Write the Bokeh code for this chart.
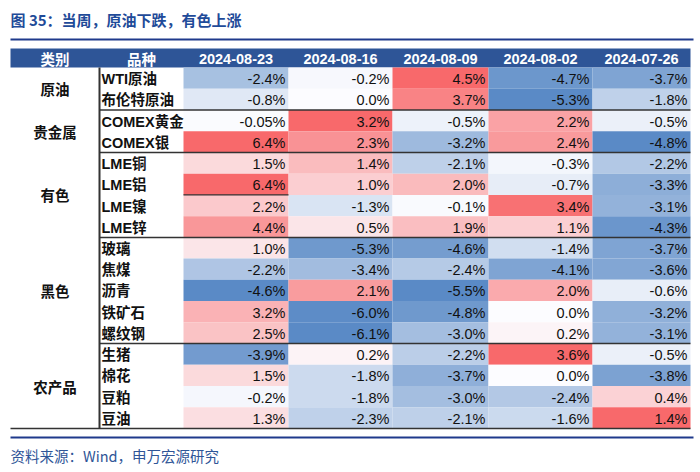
from bokeh.plotting import figure
from bokeh.models import Range1d
from bokeh.core.properties import value
from bokeh.embed import file_html
from bokeh.resources import INLINE

# ---------------- data ----------------
title_text = "图 35：当周，原油下跌，有色上涨"
source_text = "资料来源：Wind，申万宏源研究"
head_left = ["类别", "品种"]
dates = ["2024-08-23", "2024-08-16", "2024-08-09", "2024-08-02", "2024-07-26"]
groups = ["原油", "贵金属", "有色", "黑色", "农产品"]
group_sizes = [2, 2, 4, 5, 4]
items = ["WTI原油", "布伦特原油", "COMEX黄金", "COMEX银", "LME铜", "LME铝", "LME镍", "LME锌",
         "玻璃", "焦煤", "沥青", "铁矿石", "螺纹钢", "生猪", "棉花", "豆粕", "豆油"]
w0823 = [-2.4, -0.8, -0.05, 6.4, 1.5, 6.4, 2.2, 4.4, 1.0, -2.2, -4.6, 3.2, 2.5, -3.9, 1.5, -0.2, 1.3]
w0816 = [-0.2, 0.0, 3.2, 2.3, 1.4, 1.0, -1.3, 0.5, -5.3, -3.4, 2.1, -6.0, -6.1, 0.2, -1.8, -1.8, -2.3]
w0809 = [4.5, 3.7, -0.5, -3.2, -2.1, 2.0, -0.1, 1.9, -4.6, -2.4, -5.5, -4.8, -3.0, -2.2, -3.7, -3.0, -2.1]
w0802 = [-4.7, -5.3, 2.2, 2.4, -0.3, -0.7, 3.4, 1.1, -1.4, -4.1, 2.0, 0.0, 0.2, 3.6, 0.0, -2.4, -1.6]
w0726 = [-3.7, -1.8, -0.5, -4.8, -2.2, -3.3, -3.1, -4.3, -3.7, -3.6, -0.6, -3.2, -3.1, -0.5, -3.8, 0.4, 1.4]
columns = [w0823, w0816, w0809, w0802, w0726]

# ---------------- layout / style ----------------
LATIN_CJK = value("Liberation Sans, Noto Sans CJK SC")
CJK = value("Noto Sans CJK SC")
NAVY = "#2E5597"
LINE_BLUE = "#1F3A8C"
DARK = "#333333"
C_MIN = (90, 138, 198)
C_MID = (252, 252, 255)
C_MAX = (248, 105, 107)

W, H = 696, 466
edges = [10, 99, 183, 288, 392, 488, 592, 690]
head_top, head_bot = 48, 67
table_bot = 428
n = len(items)
rh = (table_bot - head_bot) / n


def row_top(i):
    return head_bot + i * rh


def mix(a, b, t):
    return "#%02x%02x%02x" % tuple(int(round(a[k] + (b[k] - a[k]) * t)) for k in range(3))


def color_for(v, lo, hi):
    if v >= 0:
        t = v / hi if hi > 0 else 0
        return mix(C_MID, C_MAX, t)
    t = v / lo if lo < 0 else 0
    return mix(C_MID, C_MIN, t)


def fmt(v):
    s = f"{v:.2f}"
    if s.endswith("0"):
        s = f"{v:.1f}"
    return s + "%"


p = figure(width=W, height=H, x_range=Range1d(0, W), y_range=Range1d(H, 0),
           output_backend="svg", toolbar_location=None, min_border=0)
p.axis.visible = False
p.grid.visible = False
p.outline_line_color = None
p.background_fill_color = "white"

# title
p.text(x=[10], y=[19], text=[title_text], text_font=CJK, text_font_style="bold",
       text_font_size="15px", text_color="#1F4B99", text_baseline="middle", text_align="left")
# top / bottom blue rules
p.segment(x0=[10, 10], y0=[39, 437], x1=[693, 693], y1=[39, 437], line_color=LINE_BLUE, line_width=2)

# header
p.quad(left=[edges[0]], right=[edges[-1]], top=[head_top], bottom=[head_bot],
       fill_color=NAVY, line_color=None)
hx = [(edges[i] + edges[i + 1]) / 2 for i in range(len(edges) - 1)]
p.text(x=hx[:2], y=[(head_top + head_bot) / 2] * 2, text=head_left, text_font=CJK,
       text_font_style="bold", text_font_size="14.5px", text_color="white",
       text_align="center", text_baseline="middle")
p.text(x=hx[2:], y=[(head_top + head_bot) / 2 + 1] * len(dates), text=dates, text_font=value("Liberation Sans"),
       text_font_style="bold", text_font_size="14.5px", text_color="white",
       text_align="center", text_baseline="middle")

# data cells
L, R, T, B, F, TX, TY, TT = [], [], [], [], [], [], [], []
for c, vals in enumerate(columns):
    lo, hi = min(vals), max(vals)
    for i, v in enumerate(vals):
        L.append(edges[c + 2])
        R.append(edges[c + 3])
        T.append(row_top(i))
        B.append(row_top(i + 1))
        F.append(color_for(v, lo, hi))
        TX.append(edges[c + 3] - 3)
        TY.append(row_top(i) + rh / 2 + 1)
        TT.append(fmt(v))
p.quad(left=L, right=R, top=T, bottom=B, fill_color=F, line_color=None)
p.text(x=TX, y=TY, text=TT, text_font=value("Liberation Sans"), text_font_size="14.5px",
       text_color="#111111", text_align="right", text_baseline="middle")

# item names
p.text(x=[edges[1] + 2] * n, y=[row_top(i) + rh / 2 + 1 for i in range(n)], text=items,
       text_font=LATIN_CJK, text_font_style="bold", text_font_size="14.5px",
       text_color="#111111", text_align="left", text_baseline="middle")

# group names and separators
gy, sep_y = [], []
start = 0
for g, s in zip(groups, group_sizes):
    gy.append((row_top(start) + row_top(start + s)) / 2)
    start += s
    sep_y.append(row_top(start))
p.text(x=[hx[0]] * len(groups), y=gy, text=groups, text_font=CJK, text_font_style="bold",
       text_font_size="14.5px", text_color="#111111", text_align="center", text_baseline="middle")
inner = sep_y[:-1]
p.segment(x0=[edges[1]] * len(inner), y0=inner, x1=[edges[-1]] * len(inner), y1=inner,
          line_color=DARK, line_width=1.5)
# partial rule under LME铝 in the first data column
p.segment(x0=[edges[2]], y0=[row_top(6)], x1=[edges[3]], y1=[row_top(6)], line_color=DARK, line_width=1.2)
# bottom table rule and vertical rule
p.segment(x0=[edges[0]], y0=[table_bot], x1=[edges[-1]], y1=[table_bot], line_color=DARK, line_width=1.5)
p.segment(x0=[edges[1]], y0=[head_bot], x1=[edges[1]], y1=[table_bot], line_color=DARK, line_width=2)

# source
p.text(x=[10], y=[455], text=[source_text], text_font=CJK, text_font_size="14.5px",
       text_color="#2F5597", text_align="left", text_baseline="middle")

open("out.html", "w").write(file_html(p, INLINE))
